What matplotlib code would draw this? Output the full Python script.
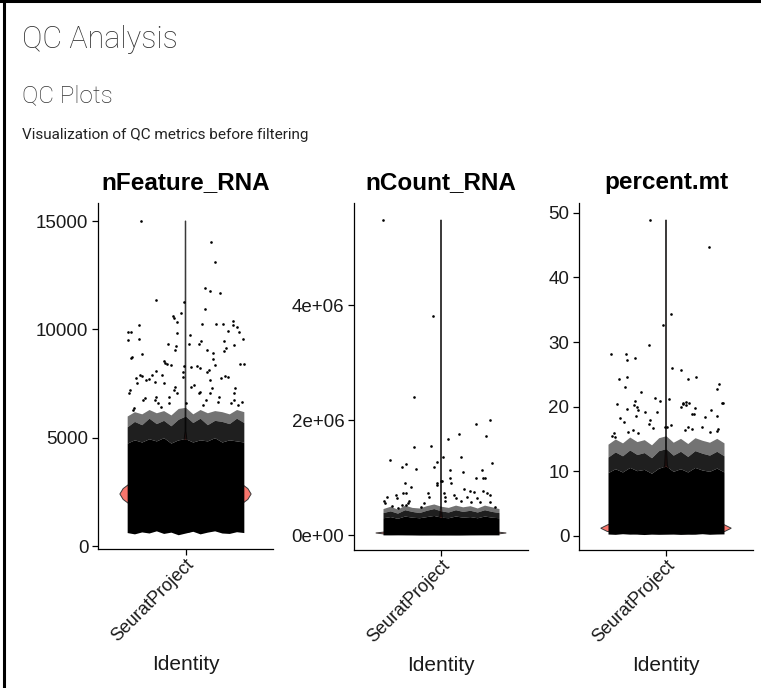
import numpy as np
import matplotlib
matplotlib.use("Agg")
import matplotlib.pyplot as plt
from matplotlib.lines import Line2D

# ---------------- data ----------------
panel_titles = ["nFeature_RNA", "nCount_RNA", "percent.mt"]
group_label = "SeuratProject"
x_title = "Identity"

# y ticks
nf_ticks = [0, 5000, 10000, 15000]
nf_ticklabels = ["0", "5000", "10000", "15000"]
nc_ticks = [0, 2e6, 4e6]
nc_ticklabels = ["0e+00", "2e+06", "4e+06"]
mt_ticks = [0, 10, 20, 30, 40, 50]
mt_ticklabels = ["0", "10", "20", "30", "40", "50"]

# violin profiles (value, relative half-width)
nf_vio_y = [640, 1000, 1500, 1900, 2150, 2400, 2650, 2900, 3300, 3800, 4300, 4700, 5300, 15000]
nf_vio_w = [0.05, 0.40, 0.70, 0.84, 0.95, 1.00, 0.95, 0.84, 0.68, 0.40, 0.15, 0.03, 0.006, 0.004]
nc_vio_y = [2000, 15000, 35000, 60000, 100000, 180000, 300000, 500000, 1000000, 5478000]
nc_vio_w = [0.30, 0.85, 1.00, 0.80, 0.45, 0.12, 0.02, 0.006, 0.004, 0.004]
mt_vio_y = [0.30, 0.7, 1.2, 1.7, 2.5, 4.0, 6.0, 8.5, 11.0, 14.0, 48.87]
mt_vio_w = [0.40, 0.90, 1.00, 0.90, 0.70, 0.45, 0.25, 0.10, 0.02, 0.006, 0.004]

# dense cloud of cells: edges read across the jitter width (-0.4 .. 0.4)
band_x = [-0.40, -0.35, -0.30, -0.25, -0.20, -0.15, -0.10, -0.05, 0.00,
          0.05, 0.10, 0.15, 0.20, 0.25, 0.30, 0.35, 0.40]
nf_low = [620, 560, 650, 600, 700, 580, 640, 520, 600, 680, 560, 640, 700, 600, 580, 660, 620]
nf_core = [4750, 4900, 4800, 4950, 4850, 5000, 4750, 4900, 4950, 4800, 4900, 4850, 5000, 4800, 4900, 4850, 4800]
nf_mid = [5500, 5750, 5600, 5900, 5650, 5800, 5550, 5850, 6000, 5700, 5900, 5600, 5800, 5750, 5650, 5900, 5700]
nf_outer = [6000, 6200, 6100, 6300, 6150, 6250, 6050, 6350, 6400, 6100, 6300, 6150, 6250, 6200, 6100, 6300, 6200]

nc_low = [2000, 1500, 2500, 1800, 2200, 1500, 2000, 2500, 1800, 2200, 1600, 2000, 2400, 1800, 2000, 2200, 2000]
nc_core = [300000, 320000, 290000, 330000, 310000, 300000, 320000, 340000, 310000, 300000, 330000, 310000, 320000, 300000, 330000, 310000, 300000]
nc_mid = [390000, 420000, 380000, 440000, 410000, 390000, 430000, 460000, 420000, 400000, 440000, 410000, 430000, 400000, 440000, 410000, 390000]
nc_outer = [460000, 500000, 450000, 520000, 480000, 470000, 510000, 540000, 500000, 480000, 520000, 490000, 510000, 470000, 520000, 490000, 460000]

mt_low = [0.30, 0.25, 0.35, 0.28, 0.30, 0.22, 0.32, 0.27, 0.30, 0.33, 0.25, 0.30, 0.28, 0.35, 0.26, 0.30, 0.32]
mt_core = [9.8, 10.4, 9.9, 10.6, 10.1, 10.3, 9.7, 10.5, 10.8, 10.0, 10.4, 9.9, 10.6, 10.2, 10.0, 10.5, 9.9]
mt_mid = [12.2, 13.0, 12.4, 13.3, 12.6, 12.9, 12.1, 13.2, 13.5, 12.5, 13.1, 12.3, 13.2, 12.8, 12.5, 13.1, 12.4]
mt_outer = [14.2, 15.0, 14.4, 15.3, 14.6, 14.9, 14.1, 15.2, 15.5, 14.5, 15.1, 14.3, 15.2, 14.8, 14.5, 15.1, 14.4]

# sparse (individually visible) cells: jitter offset, value
nf_px = [-0.308, 0.176, 0.205, -0.199, -0.007, 0.137, 0.171, 0.235, 0.132, -0.034, -0.087, -0.080,
         -0.055, -0.320, -0.393, -0.377, -0.395, -0.320, 0.116, 0.210, 0.258, 0.324, 0.329, 0.352,
         0.365, 0.290, 0.030, -0.057, 0.397, 0.265, 0.331, 0.105, 0.094, 0.021, -0.121, -0.066,
         -0.075, 0.148, 0.190, 0.262, 0.281, -0.297, -0.365, -0.377,
         0.377, 0.404, 0.190, 0.200, 0.160, 0.150, 0.100, 0.080, 0.036, -0.010, -0.015, -0.020,
         -0.098, -0.130, -0.150, -0.140, -0.200, -0.230, -0.250, -0.210, -0.270, -0.310, -0.300,
         -0.340, -0.335, -0.385, -0.380, -0.290, -0.280, -0.210, -0.200, -0.150, -0.160, -0.060,
         -0.070, -0.080, -0.110, -0.115, 0.040, 0.055, 0.090, 0.100, 0.170, 0.180, 0.240, 0.270,
         0.290, 0.330, 0.340, 0.220, 0.230, 0.310, 0.330, 0.360, 0.390, 0.170, 0.000, 0.120,
         0.140, -0.170, -0.190, -0.360, -0.355]
nf_py = [15000, 14017, 13108, 11369, 11262, 11892, 11769, 11677, 10923, 10769, 10615, 10538,
         10354, 10215, 9892, 9892, 9508, 9538, 10262, 10262, 10262, 10400, 10215, 10092,
         9892, 9908, 9738, 9846, 9569, 9462, 9277, 9462, 9323, 9308, 9308, 9215,
         9046, 9062, 8892, 9015, 9138, 8862, 8738, 8662,
         8400, 8420, 8615, 8354, 8123, 8050, 8200, 8308, 8277, 8300, 8050, 7800,
         8354, 8400, 8538, 8450, 8077, 7900, 7700, 7570, 7650, 7900, 7850,
         7754, 7523, 7062, 7200, 6740, 6830, 6738, 6877, 7523, 7892, 7062,
         7338, 7200, 6600, 6877, 7338, 7430, 7062, 7108, 7062, 7290, 7754, 7846,
         7800, 7060, 7290, 6646, 6877, 6600, 6738, 6507, 6646, 7661, 6600, 6507,
         6738, 6415, 6600, 6277, 6369]

nc_px = [-0.400, -0.055, -0.185, 0.340, 0.238, 0.123, 0.313, 0.050, -0.185, -0.070, -0.350,
         -0.240, -0.270, -0.170, -0.030, -0.050, 0.016, 0.140, 0.060, 0.153, 0.283, 0.350,
         0.240, 0.300, 0.290, 0.000, 0.005, 0.060, 0.070, -0.250, -0.210, -0.030, -0.025,
         0.160, 0.200, 0.230, 0.290, 0.340, 0.320, -0.310, -0.305, -0.240, -0.260, -0.370,
         -0.390, -0.385, -0.090, -0.085, 0.020, 0.030, 0.025, 0.090, 0.100, 0.140, 0.180,
         0.210, 0.250, 0.270, 0.340, 0.370, -0.220, -0.240, -0.230, -0.120, -0.140, -0.270,
         -0.300, -0.340]
nc_py = [5478000, 3810000, 2395000, 1995000, 1925000, 1751000, 1727000, 1675000, 1525000, 1548000, 1304000,
         1230000, 1180000, 1148000, 1270000, 1180000, 1362000, 1362000, 1130000, 1100000, 1130000, 1247000,
         1000000, 990000, 1000000, 940000, 945000, 1000000, 900000, 900000, 840000, 900000, 870000,
         800000, 770000, 750000, 770000, 700000, 730000, 700000, 640000, 730000, 730000, 660000,
         600000, 550000, 730000, 660000, 730000, 660000, 600000, 700000, 650000, 600000, 660000,
         570000, 640000, 580000, 570000, 490000, 600000, 520000, 560000, 550000, 490000, 520000,
         470000, 500000]

mt_px = [-0.112, 0.295, 0.036, -0.020, -0.119, -0.377, -0.276, -0.272, -0.212, 0.039, 0.103,
         0.151, 0.208, -0.272, -0.327, -0.286, 0.365, 0.354, -0.169, -0.073, -0.039, 0.021,
         -0.214, -0.336, 0.120, 0.140, 0.160, 0.388,
         -0.190, -0.220, -0.200, -0.270, -0.320, -0.290, -0.144, -0.062, -0.210, -0.090,
         -0.110, -0.120, -0.010, 0.010, 0.034, 0.100, 0.115, 0.140, 0.180, 0.200, 0.195,
         0.270, 0.310, 0.350, 0.390, 0.130, 0.150, 0.180, 0.250, 0.300, 0.360, 0.350,
         -0.190, -0.230, -0.260, -0.350, -0.360, -0.370]
mt_py = [48.87, 44.70, 34.30, 32.60, 29.46, 28.07, 28.17, 27.20, 27.55, 26.00, 25.60,
         24.35, 24.57, 24.66, 24.26, 23.02, 23.58, 22.70, 22.24, 21.40, 20.90, 21.20,
         20.80, 20.40, 20.40, 20.70, 20.50, 20.50,
         19.50, 20.20, 19.90, 19.70, 18.30, 17.60, 19.10, 19.10, 18.50, 16.70,
         18.00, 17.30, 16.80, 16.80, 17.20, 20.00, 20.60, 20.30, 18.80, 19.80, 18.90,
         18.40, 19.50, 18.60, 20.50, 16.40, 16.90, 16.60, 16.90, 16.10, 16.50, 16.20,
         16.00, 16.40, 16.10, 15.30, 15.90, 15.50]

# ---------------- layout ----------------
W, H = 761, 688
fig = plt.figure(figsize=(W / 100, H / 100), dpi=100)
fig.patch.set_facecolor("white")

def px_axes(left, top, right, bottom):
    return fig.add_axes([left / W, 1 - bottom / H, (right - left) / W, (bottom - top) / H])

panels = [
    dict(rect=(98, 203, 273, 549), ylim=(-138, 15831), ticks=nf_ticks, labels=nf_ticklabels,
         vy=nf_vio_y, vw=nf_vio_w, low=nf_low, core=nf_core, mid=nf_mid, outer=nf_outer,
         px=nf_px, py=nf_py),
    dict(rect=(354, 203, 528, 550), ylim=(-260870, 5774000), ticks=nc_ticks, labels=nc_ticklabels,
         vy=nc_vio_y, vw=nc_vio_w, low=nc_low, core=nc_core, mid=nc_mid, outer=nc_outer,
         px=nc_px, py=nc_py),
    dict(rect=(579, 203, 753, 550), ylim=(-2.17, 51.5), ticks=mt_ticks, labels=mt_ticklabels,
         vy=mt_vio_y, vw=mt_vio_w, low=mt_low, core=mt_core, mid=mt_mid, outer=mt_outer,
         px=mt_px, py=mt_py),
]

bx = 1 + np.asarray(band_x)
for title, p in zip(panel_titles, panels):
    ax = px_axes(*p["rect"])
    ax.set_xlim(0.4, 1.6)
    ax.set_ylim(*p["ylim"])
    # violin
    vy = np.asarray(p["vy"], float)
    hw = 0.45 * np.asarray(p["vw"], float)
    xs = np.concatenate([1 - hw, (1 + hw)[::-1]])
    ys = np.concatenate([vy, vy[::-1]])
    ax.fill(xs, ys, facecolor="#F8766D", edgecolor="#3a3a3a", linewidth=0.7, zorder=1)
    # dense cloud of points
    ax.fill_between(bx, p["low"], p["core"], color="black", linewidth=0, zorder=2)
    ax.fill_between(bx, p["core"], p["mid"], color="black", alpha=0.88, linewidth=0, zorder=2)
    ax.fill_between(bx, p["mid"], p["outer"], color="black", alpha=0.55, linewidth=0, zorder=2)
    # individual points
    ax.scatter(1 + np.asarray(p["px"]), p["py"], s=3.6, c="black", linewidths=0, zorder=3)

    for s in ["top", "right"]:
        ax.spines[s].set_visible(False)
    for s in ["left", "bottom"]:
        ax.spines[s].set_linewidth(0.9)
        ax.spines[s].set_color("black")
    ax.set_yticks(p["ticks"])
    ax.set_yticklabels(p["labels"])
    ax.set_xticks([1])
    ax.set_xticklabels([group_label], rotation=45, ha="right", va="top",
                       rotation_mode="anchor")
    ax.tick_params(axis="y", length=4, width=0.9, color="black",
                   labelsize=13.5, labelcolor="#1a1a1a", pad=3)
    ax.tick_params(axis="x", length=4, width=0.9, color="black",
                   labelsize=13, labelcolor="#1a1a1a", pad=1)
    for lab in ax.get_yticklabels() + ax.get_xticklabels():
        lab.set_family("Liberation Sans")
    ax.set_xlabel(x_title, fontsize=15, family="Liberation Sans", labelpad=7, color="#1a1a1a")
    ax.set_title(title, fontsize=17.5, fontweight="bold", family="Liberation Sans", pad=10)

# page text
fig.text(22 / W, 1 - 48 / H, "QC Analysis", fontsize=22, family="Roboto", fontweight="light",
         color="#333333", va="baseline")
fig.text(22 / W, 1 - 102 / H, "QC Plots", fontsize=17.5, family="Roboto", fontweight="light",
         color="#333333", va="baseline")
fig.text(22 / W, 1 - 139 / H, "Visualization of QC metrics before filtering", fontsize=11,
         family="Roboto", color="#222222", va="baseline")

# page border (left and top)
fig.add_artist(Line2D([4 / W, 4 / W], [0, 1], color="black", linewidth=2.2,
                      transform=fig.transFigure))
fig.add_artist(Line2D([0, 1], [1 - 1 / H, 1 - 1 / H], color="black", linewidth=2.2,
                      transform=fig.transFigure))

fig.savefig("out.png", dpi=100)
